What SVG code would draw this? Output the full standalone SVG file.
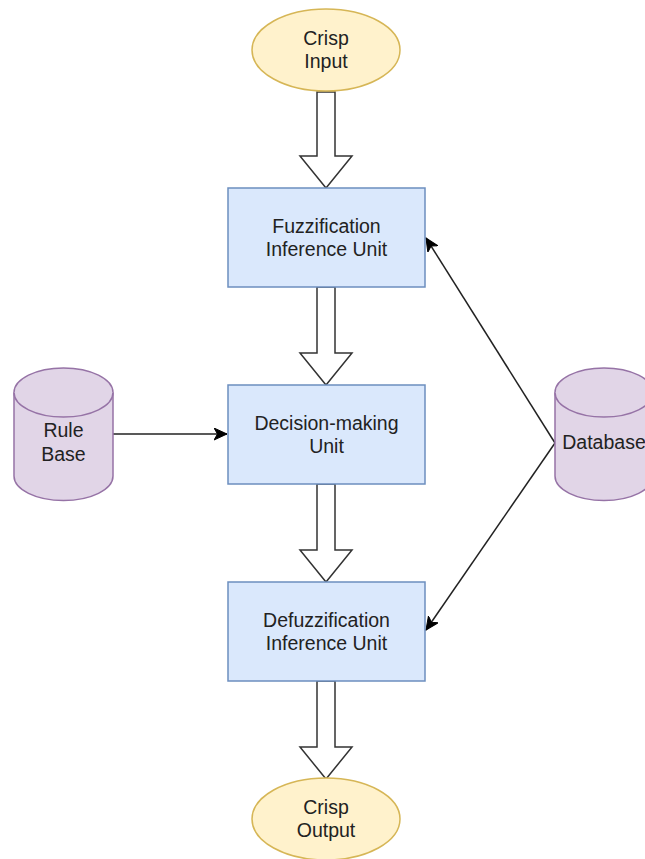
<svg xmlns="http://www.w3.org/2000/svg" width="645" height="859" viewBox="0 0 645 859">
<defs>
<marker id="arr" markerUnits="userSpaceOnUse" markerWidth="16" markerHeight="14" refX="13" refY="6" orient="auto" viewBox="0 0 16 14">
<path d="M0,0 L13,6 L0,12 L3.5,6 Z" fill="#000" stroke="#000" stroke-width="1"/>
</marker>
</defs>
<style>
.term{fill:#fff2cc;stroke:#d6b656;stroke-width:1.5}
.box{fill:#dae8fc;stroke:#6c8ebf;stroke-width:1.5}
.db{fill:#e1d5e7;stroke:#9673a6;stroke-width:1.5}
.blk{fill:#fff;stroke:#333;stroke-width:1.5;stroke-linejoin:miter}
.ln{fill:none;stroke:#222;stroke-width:1.5}
text{font-family:"Liberation Sans",Arial,sans-serif;font-size:19.5px;fill:#222;text-anchor:middle}
</style>
<rect width="645" height="859" fill="#fff"/>
<g id="connectors">
<polygon class="blk" points="317,92 335,92 335,156 352,156 326,188 300,156 317,156"/>
<polygon class="blk" points="317,287 335,287 335,353 352,353 326,385 300,353 317,353"/>
<polygon class="blk" points="317,484 335,484 335,550 352,550 326,582 300,550 317,550"/>
<polygon class="blk" points="317,681 335,681 335,747 352,747 326,779 300,747 317,747"/>
<line class="ln" x1="113" y1="434" x2="227" y2="434" marker-end="url(#arr)"/>
<line class="ln" x1="555" y1="443" x2="426" y2="238" marker-end="url(#arr)"/>
<line class="ln" x1="555" y1="443" x2="426" y2="630" marker-end="url(#arr)"/>
</g>
<g id="crisp-input">
<ellipse class="term" cx="326" cy="50" rx="74" ry="41"/>
<text x="326" y="45">Crisp</text>
<text x="326" y="68">Input</text>
</g>
<g id="fuzzification">
<rect class="box" x="228" y="188" width="197" height="99"/>
<text x="326.5" y="232.5">Fuzzification</text>
<text x="326.5" y="256">Inference Unit</text>
</g>
<g id="decision">
<rect class="box" x="228" y="385" width="197" height="99"/>
<text x="326.5" y="429.5">Decision-making</text>
<text x="326.5" y="453">Unit</text>
</g>
<g id="defuzzification">
<rect class="box" x="228" y="582" width="197" height="99"/>
<text x="326.5" y="626.5">Defuzzification</text>
<text x="326.5" y="650">Inference Unit</text>
</g>
<g id="crisp-output">
<ellipse class="term" cx="326" cy="819" rx="74" ry="41"/>
<text x="326" y="814">Crisp</text>
<text x="326" y="837">Output</text>
</g>
<g id="rule-base">
<path class="db" d="M14,392.5 A49.5,24.5 0 0 1 113,392.5 L113,476 A49.5,24.5 0 0 1 14,476 Z"/>
<path class="db" d="M14,392.5 A49.5,24.5 0 0 0 113,392.5" fill="none"/>
<text x="63.5" y="437">Rule</text>
<text x="63.5" y="461">Base</text>
</g>
<g id="database">
<path class="db" d="M555,392.5 A49,24.5 0 0 1 653,392.5 L653,476 A49,24.5 0 0 1 555,476 Z"/>
<path class="db" d="M555,392.5 A49,24.5 0 0 0 653,392.5" fill="none"/>
<text x="604" y="449">Database</text>
</g>
</svg>
